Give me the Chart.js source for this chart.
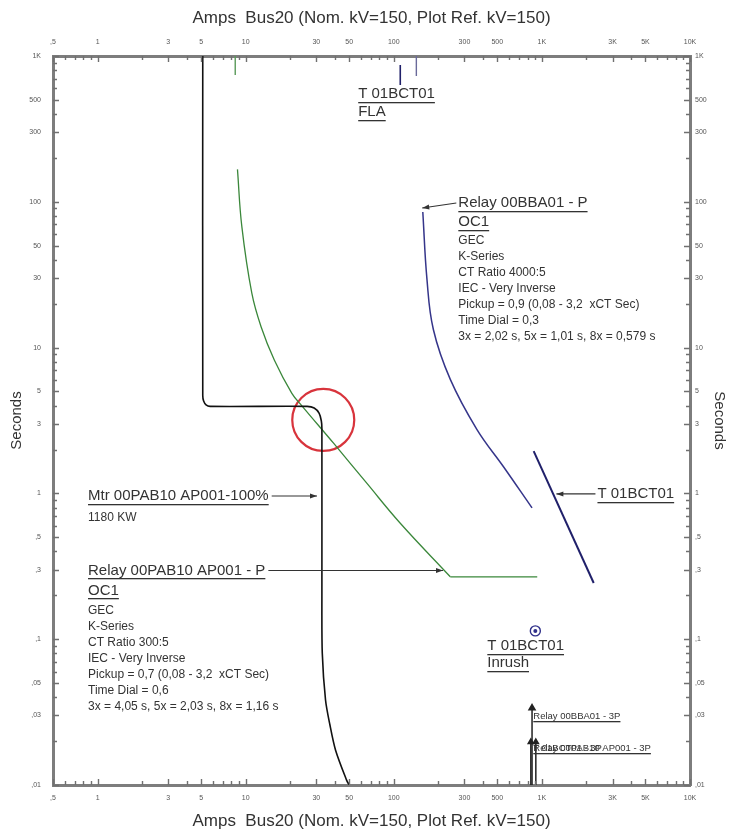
<!DOCTYPE html>
<html>
<head>
<meta charset="utf-8">
<title>Amps Bus20 TCC</title>
<script src="https://cdn.jsdelivr.net/npm/chart.js@4.4.1/dist/chart.umd.min.js"></script>
<style>
  html, body { margin: 0; padding: 0; background: #fff; }
  canvas { display: block; }
</style>
</head>
<body>
<canvas id="tcc" width="729" height="834"></canvas>
<script>
// tick labels
const xTickValues = [0.5, 1, 3, 5, 10, 30, 50, 100, 300, 500, 1000, 3000, 5000, 10000];
const xTickLabels = [',5', '1', '3', '5', '10', '30', '50', '100', '300', '500', '1K', '3K', '5K', '10K'];
const yTickValues = [1000, 500, 300, 100, 50, 30, 10, 5, 3, 1, 0.5, 0.3, 0.1, 0.05, 0.03, 0.01];
const yTickLabels = ['1K', '500', '300', '100', '50', '30', '10', '5', '3', '1', ',5', ',3', ',1', ',05', ',03', ',01'];

// Mtr 00PAB10 AP001-100%  (amps, seconds)
const motorAmps = [5.13, 5.13, 5.2, 5.4, 5.75, 26, 29, 31.3, 32.4, 32.7, 32.7, 32.9, 34.6, 37, 40.4, 48, 50];
const motorSecs = [1000, 4.7, 4.3, 4.05, 3.95, 3.95, 3.85, 3.55, 3.15, 2.8, 0.2, 0.08, 0.0383, 0.026, 0.0174, 0.0108, 0.01];

// Relay 00PAB10 AP001 - P OC1 : inverse part, then definite-time part
const relayPabAmps = [8.8, 9.42, 11.0, 12.7, 15.6, 20.5, 24.2, 39.2, 65.9, 110.6, 240.7];
const relayPabSecs = [167, 67.5, 23.6, 13.9, 8.22, 4.86, 3.94, 2.21, 1.17, 0.624, 0.268];
const relayPabDtAmps = [240.7, 930];
const relayPabDtSecs = [0.268, 0.268];

// Relay 00BBA01 - P OC1
const relayBbaAmps = [157, 167.5, 185, 240.7, 364.5, 549, 858];
const relayBbaSecs = [85.2, 29.4, 13.3, 6.05, 2.74, 1.53, 0.795];

// T 01BCT01 damage curve
const xfmrAmps = [880, 2238];
const xfmrSecs = [1.95, 0.243];

// FLA markers
const flaXfmrAmps = [110.6, 110.6];
const flaXfmrSecs = [868, 632];
const flaRelayAmps = [142, 142];
const flaRelaySecs = [1000, 729];
const flaMotorAmps = [8.5, 8.5];
const flaMotorSecs = [1000, 740];

// T 01BCT01 inrush
const inrushAmps = [903];
const inrushSecs = [0.114];

// 3-phase fault currents
const fault1Amps = [858, 858];
const fault1Secs = [0.0337, 0.01];
const fault2Amps = [842, 842];
const fault2Secs = [0.0197, 0.01];
const fault3Amps = [910, 910];
const fault3Secs = [0.0197, 0.01];

// highlighted crossing
const markAmps = [33.4];
const markSecs = [3.19];

const FONT = '"Liberation Sans", Arial, sans-serif';

function pts(xs, ys) {
  return xs.map((a, i) => ({ x: a, y: ys[i] }));
}

function line(label, xs, ys, color, width, extra) {
  return Object.assign({
    label: label,
    data: pts(xs, ys),
    showLine: true,
    borderColor: color,
    backgroundColor: color,
    borderWidth: width,
    pointRadius: 0,
    tension: 0
  }, extra || {});
}

const notes = [
  { amps: 57.5, secs: 549, lines: [['T 01BCT01', 0, 15, true], ['FLA', 18, 15, true]] },
  { amps: 272.7, secs: 98.1,
    lines: [['Relay 00BBA01 - P', 0, 15, true], ['OC1', 19, 15, true],
      ['GEC', 38, 12], ['K-Series', 54, 12], ['CT Ratio 4000:5', 70, 12], ['IEC - Very Inverse', 86, 12],
      ['Pickup = 0,9 (0,08 - 3,2  xCT Sec)', 102, 12], ['Time Dial = 0,3', 118, 12],
      ['3x = 2,02 s, 5x = 1,01 s, 8x = 0,579 s', 134, 12]],
    arrow: { from: 'start', amps: 155.6, secs: 90.7 } },
  { amps: 0.862, secs: 0.96,
    lines: [['Mtr 00PAB10 AP001-100%', 0, 15, true], ['1180 KW', 22, 12]],
    arrow: { from: 'end', amps: 30.3, secs: 0.96 } },
  { amps: 0.862, secs: 0.296,
    lines: [['Relay 00PAB10 AP001 - P', 0, 15, true], ['OC1', 20, 15, true],
      ['GEC', 40, 12], ['K-Series', 56, 12], ['CT Ratio 300:5', 72, 12], ['IEC - Very Inverse', 88, 12],
      ['Pickup = 0,7 (0,08 - 3,2  xCT Sec)', 104, 12], ['Time Dial = 0,6', 120, 12],
      ['3x = 4,05 s, 5x = 2,03 s, 8x = 1,16 s', 136, 12]],
    arrow: { from: 'end', amps: 215, secs: 0.296 } },
  { amps: 2372, secs: 0.991, lines: [['T 01BCT01', 0, 15, true]],
    arrow: { from: 'start', amps: 1253, secs: 0.991 } },
  { amps: 428, secs: 0.0898, lines: [['T 01BCT01', 0, 15, true], ['Inrush', 17, 15, true]] },
  { amps: 875, secs: 0.0297, lines: [['Relay 00BBA01 - 3P', 0, 9.5, true]] },
  { amps: 875, secs: 0.01794, lines: [['Relay 00PAB10 AP001 - 3P', 0, 9.5, true], ['T 01BCT01 - 3P', 0, 9.5, false]] }
];

function arrow(ctx, x1, y1, x2, y2) {
  ctx.beginPath();
  ctx.moveTo(x1, y1);
  ctx.lineTo(x2, y2);
  ctx.stroke();
  const ang = Math.atan2(y2 - y1, x2 - x1);
  const len = 7, w = 2.5;
  ctx.beginPath();
  ctx.moveTo(x2, y2);
  ctx.lineTo(x2 - len * Math.cos(ang) + w * Math.sin(ang), y2 - len * Math.sin(ang) - w * Math.cos(ang));
  ctx.lineTo(x2 - len * Math.cos(ang) - w * Math.sin(ang), y2 - len * Math.sin(ang) + w * Math.cos(ang));
  ctx.closePath();
  ctx.fill();
}

// small ticks pointing into the plot on all four sides
const inTicks = {
  id: 'inTicks',
  afterDraw(chart) {
    const { ctx, chartArea: a, scales: { x, y } } = chart;
    ctx.save();
    ctx.strokeStyle = '#707070';
    ctx.lineWidth = 1.4;
    for (let k = -2; k <= 4; k++) {
      for (let m = 1; m <= 9; m++) {
        const v = m * Math.pow(10, k);
        if (v >= 0.5 - 1e-9 && v <= 10000 + 1e-9) {
          const px = Math.round(x.getPixelForValue(v)) + 0.5;
          const len = xTickValues.some(t => Math.abs(t - v) < 1e-9) ? 6 : 4;
          ctx.beginPath();
          ctx.moveTo(px, a.top); ctx.lineTo(px, a.top + len);
          ctx.moveTo(px, a.bottom); ctx.lineTo(px, a.bottom - len);
          ctx.stroke();
        }
        if (v >= 0.01 - 1e-9 && v <= 1000 + 1e-9) {
          const py = Math.round(y.getPixelForValue(v)) + 0.5;
          const len = yTickValues.some(t => Math.abs(t - v) < 1e-9) ? 6 : 4;
          ctx.beginPath();
          ctx.moveTo(a.left, py); ctx.lineTo(a.left + len, py);
          ctx.moveTo(a.right, py); ctx.lineTo(a.right - len, py);
          ctx.stroke();
        }
      }
    }
    ctx.restore();
  }
};

const notesPlugin = {
  id: 'notes',
  afterDatasetsDraw(chart) {
    const { ctx, scales: { x, y } } = chart;
    ctx.save();
    ctx.textBaseline = 'middle';
    ctx.textAlign = 'left';
    ctx.fillStyle = '#333';
    ctx.strokeStyle = '#333';
    notes.forEach(n => {
      const left = x.getPixelForValue(n.amps);
      const top = y.getPixelForValue(n.secs);
      let firstWidth = 0;
      n.lines.forEach(([text, dy, size, under], i) => {
        ctx.font = size + 'px ' + FONT;
        ctx.fillText(text, left, top + dy);
        const w = ctx.measureText(text).width;
        if (i === 0) firstWidth = w;
        if (under) ctx.fillRect(left, Math.round(top + dy + size * 0.53), w, 1.3);
      });
      if (n.arrow) {
        ctx.lineWidth = 1.2;
        const tx = x.getPixelForValue(n.arrow.amps);
        const ty = y.getPixelForValue(n.arrow.secs);
        const sx = n.arrow.from === 'end' ? left + firstWidth + 3 : left - 2;
        arrow(ctx, sx, top, tx, ty);
      }
    });
    ctx.restore();
  }
};

const white = {
  id: 'white',
  beforeDraw(chart) {
    const ctx = chart.ctx;
    ctx.save();
    ctx.fillStyle = '#fff';
    ctx.fillRect(0, 0, chart.width, chart.height);
    ctx.restore();
  }
};

const tickFont = { size: 7, family: FONT };
const borderStyle = { color: '#7d7d7d', width: 3 };
const ampsTitle = 'Amps  Bus20 (Nom. kV=150, Plot Ref. kV=150)';
const green = '#3a873a';

new Chart(document.getElementById('tcc'), {
  type: 'scatter',
  data: {
    datasets: [
      // earlier datasets are painted on top
      { label: 'Inrush dot', data: pts(inrushAmps, inrushSecs), pointRadius: 2, pointBorderWidth: 0,
        pointBackgroundColor: '#30308a' },
      { label: 'Inrush', data: pts(inrushAmps, inrushSecs), pointRadius: 5, pointBorderWidth: 1.4,
        pointBorderColor: '#30308a', pointBackgroundColor: 'rgba(0,0,0,0)' },
      line('Mtr 00PAB10 AP001-100%', motorAmps, motorSecs, '#111', 1.6, { tension: 0.3 }),
      line('Relay 00PAB10 AP001 - P', relayPabAmps, relayPabSecs, green, 1.3, { tension: 0.4 }),
      line('Relay 00PAB10 AP001 - P DT', relayPabDtAmps, relayPabDtSecs, green, 1.3),
      line('Relay 00BBA01 - P', relayBbaAmps, relayBbaSecs, '#35358a', 1.5, { tension: 0.4 }),
      line('T 01BCT01', xfmrAmps, xfmrSecs, '#20206a', 2),
      line('T 01BCT01 FLA', flaXfmrAmps, flaXfmrSecs, '#20206a', 1.6),
      line('Relay 00BBA01 FLA', flaRelayAmps, flaRelaySecs, '#6a6a9a', 1.4),
      line('Mtr FLA', flaMotorAmps, flaMotorSecs, '#5a9a5a', 1.4),
      line('Relay 00BBA01 - 3P', fault1Amps, fault1Secs, '#222', 1.5,
        { pointRadius: [3.5, 0], pointStyle: 'triangle', pointBackgroundColor: '#222' }),
      line('Relay 00PAB10 AP001 - 3P', fault2Amps, fault2Secs, '#222', 1.5,
        { pointRadius: [3, 0], pointStyle: 'triangle', pointBackgroundColor: '#222' }),
      line('T 01BCT01 - 3P', fault3Amps, fault3Secs, '#222', 1.5,
        { pointRadius: [3, 0], pointStyle: 'triangle', pointBackgroundColor: '#222' }),
      { label: 'Mark', data: pts(markAmps, markSecs), pointRadius: 31, pointBorderWidth: 2.2,
        pointBorderColor: '#d8343c', pointBackgroundColor: 'rgba(0,0,0,0)' }
    ]
  },
  options: {
    responsive: false,
    devicePixelRatio: 1,
    animation: false,
    events: [],
    layout: { padding: 0 },
    plugins: { legend: { display: false }, tooltip: { enabled: false } },
    scales: {
      x: {
        type: 'logarithmic', position: 'bottom', min: 0.5, max: 10000,
        afterFit: s => { s.height = 49; },
        afterBuildTicks: s => { s.ticks = xTickValues.map(v => ({ value: v })); },
        ticks: { autoSkip: false, maxRotation: 0, padding: 9, font: tickFont, color: '#555',
          callback: (v, i) => xTickLabels[i] },
        grid: { display: false, drawTicks: false },
        border: borderStyle,
        title: { display: true, text: ampsTitle, color: '#333', font: { size: 17, family: FONT }, padding: { top: 0, bottom: 2 } }
      },
      x2: {
        type: 'logarithmic', position: 'top', min: 0.5, max: 10000,
        afterFit: s => { s.height = 56; },
        afterBuildTicks: s => { s.ticks = xTickValues.map(v => ({ value: v })); },
        ticks: { autoSkip: false, maxRotation: 0, padding: 10, font: tickFont, color: '#555',
          callback: (v, i) => xTickLabels[i] },
        grid: { display: false, drawTicks: false },
        border: borderStyle,
        title: { display: true, text: ampsTitle, color: '#333', font: { size: 17, family: FONT }, padding: { top: 8, bottom: 0 } }
      },
      y: {
        type: 'logarithmic', position: 'left', min: 0.01, max: 1000,
        afterFit: s => { s.width = 53; },
        afterBuildTicks: s => { s.ticks = yTickValues.slice().reverse().map(v => ({ value: v })); },
        ticks: { autoSkip: false, padding: 12, font: tickFont, color: '#555',
          callback: (v, i) => yTickLabels[yTickValues.length - 1 - i] },
        grid: { display: false, drawTicks: false },
        border: borderStyle,
        title: { display: true, text: 'Seconds', color: '#333', font: { size: 15, family: FONT }, padding: { top: 8, bottom: 0 } }
      },
      y2: {
        type: 'logarithmic', position: 'right', min: 0.01, max: 1000,
        afterFit: s => { s.width = 39; },
        afterBuildTicks: s => { s.ticks = yTickValues.slice().reverse().map(v => ({ value: v })); },
        ticks: { autoSkip: false, padding: 5, font: tickFont, color: '#555',
          callback: (v, i) => yTickLabels[yTickValues.length - 1 - i] },
        grid: { display: false, drawTicks: false },
        border: borderStyle,
        title: { display: true, text: 'Seconds', color: '#333', font: { size: 15, family: FONT }, padding: { top: 1, bottom: 0 } }
      }
    }
  },
  plugins: [white, inTicks, notesPlugin]
});
</script>
</body>
</html>
